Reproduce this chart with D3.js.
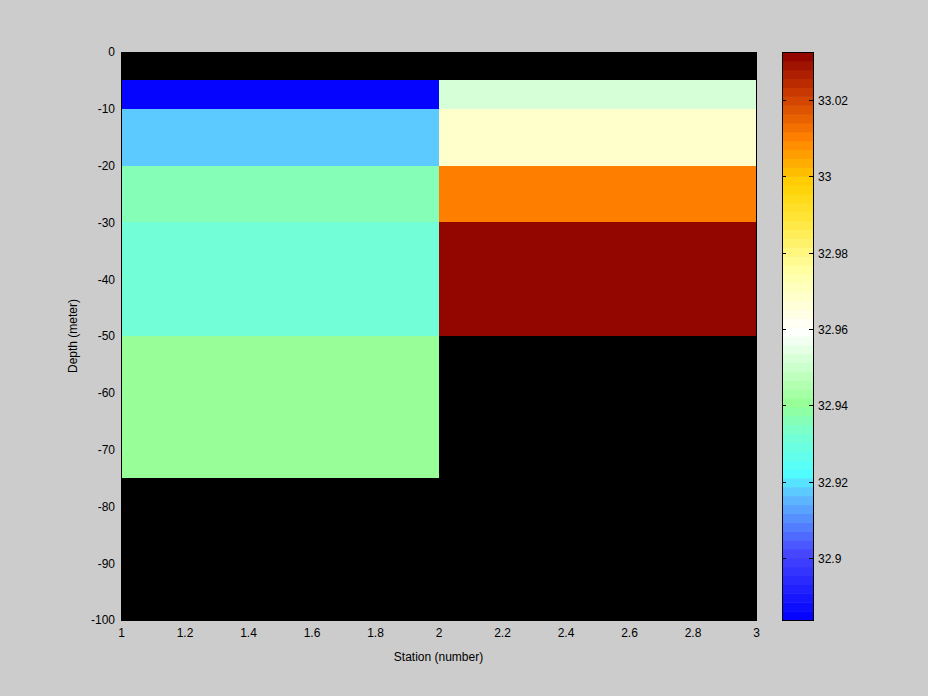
<!DOCTYPE html>
<html><head><meta charset="utf-8">
<script src="https://cdn.jsdelivr.net/npm/d3@7"></script>
<style>body{margin:0;background:#cccccc;} svg{display:block;} text{font-family:"Liberation Sans",Arial,sans-serif;font-size:12px;fill:#000;}</style>
</head><body>
<svg id="c" width="928" height="696"></svg>
<script>
// Data
const stations = [1, 2, 3];
const depths = [0, -5, -10, -20, -30, -50, -75, -100];
const salinityStation1 = [null, 32.884, 32.918, 32.936, 32.932, 32.941, null];
const salinityStation2 = [null, 32.953, 32.969, 33.011, 33.032, null, null];
const colorLimits = [32.8838, 33.0326];
const xTicks = [1, 1.2, 1.4, 1.6, 1.8, 2, 2.2, 2.4, 2.6, 2.8, 3];
const yTicks = [0, -10, -20, -30, -40, -50, -60, -70, -80, -90, -100];
const cbTicks = [32.9, 32.92, 32.94, 32.96, 32.98, 33, 33.02];
const cmapStops = [0, 0.12, 0.22, 0.26, 0.33, 0.38, 0.51, 0.62, 0.70, 0.77, 0.85, 0.92, 1];
const cmapColors = ["#0000ff","#4848ff","#60c0ff","#50ffff","#78ffd0","#96ff96","#ffffff","#ffffa0","#ffe840","#ffd000","#ff8000","#d04000","#8c0000"];
const nLevels = 64;

const fmt = d => String(d);
const svg = d3.select("#c");
const x = d3.scaleLinear().domain([1, 3]).range([121, 756]);
const y = d3.scaleLinear().domain([0, -100]).range([52, 620]);

const cmapInterp = d3.scaleLinear().domain(cmapStops).range(cmapColors).interpolate(d3.interpolateRgb);
const levelColors = d3.range(nLevels).map(i => cmapInterp((i + 0.5) / nLevels));
const color = d3.scaleQuantize().domain(colorLimits).range(levelColors);

// plot background
svg.append("rect").attr("x", x(1)).attr("y", y(0)).attr("width", x(3) - x(1)).attr("height", y(-100) - y(0)).attr("fill", "#000");

const cells = [];
[salinityStation1, salinityStation2].forEach((col, si) => {
  col.forEach((v, di) => {
    if (v != null) cells.push({x0: stations[si], x1: stations[si + 1], d0: depths[di], d1: depths[di + 1], v});
  });
});
svg.append("g").selectAll("rect").data(cells).join("rect")
  .attr("x", d => x(d.x0)).attr("y", d => y(d.d0))
  .attr("width", d => x(d.x1) - x(d.x0)).attr("height", d => y(d.d1) - y(d.d0))
  .attr("fill", d => color(d.v)).attr("shape-rendering", "crispEdges");

// frame
svg.append("rect").attr("x", x(1)).attr("y", y(0)).attr("width", x(3) - x(1)).attr("height", y(-100) - y(0))
  .attr("fill", "none").attr("stroke", "#000").attr("stroke-width", 1).attr("shape-rendering", "crispEdges");

// axes
const xAxis = svg.append("g").attr("transform", `translate(0,${y(-100)})`)
  .call(d3.axisBottom(x).tickValues(xTicks).tickSize(0).tickPadding(8).tickFormat(fmt));
xAxis.select(".domain").remove();
const yAxis = svg.append("g").attr("transform", `translate(${x(1)},0)`)
  .call(d3.axisLeft(y).tickValues(yTicks).tickSize(0).tickPadding(6).tickFormat(fmt));
yAxis.select(".domain").remove();
svg.selectAll(".tick text").style("font-family", "Liberation Sans, Arial, sans-serif").style("font-size", "12px").attr("fill", "#000");

svg.append("text").attr("x", x(2)).attr("y", 661).attr("text-anchor", "middle").text("Station (number)");
svg.append("text").attr("transform", `translate(77,${y(-50)}) rotate(-90)`).attr("text-anchor", "middle").text("Depth (meter)");

// colorbar
const cbX0 = 782, cbX1 = 813;
const cy = d3.scaleLinear().domain(colorLimits).range([620, 52]);
const levelStep = (colorLimits[1] - colorLimits[0]) / nLevels;
svg.append("g").selectAll("rect").data(levelColors).join("rect")
  .attr("x", cbX0).attr("width", cbX1 - cbX0)
  .attr("y", (c, i) => cy(colorLimits[0] + (i + 1) * levelStep))
  .attr("height", (c, i) => cy(colorLimits[0] + i * levelStep) - cy(colorLimits[0] + (i + 1) * levelStep) + 0.5)
  .attr("fill", c => c);
svg.append("rect").attr("x", cbX0).attr("y", 52).attr("width", cbX1 - cbX0).attr("height", 568)
  .attr("fill", "none").attr("stroke", "#000").attr("stroke-width", 1).attr("shape-rendering", "crispEdges");
const cbt = svg.append("g").selectAll("g").data(cbTicks).join("g").attr("transform", d => `translate(0,${Math.round(cy(d)) + 0.5})`);
cbt.append("line").attr("x1", cbX0).attr("x2", cbX0 + 4).attr("stroke", "#000");
cbt.append("line").attr("x1", cbX1 - 4).attr("x2", cbX1).attr("stroke", "#000");
cbt.append("text").attr("x", 818).attr("dy", "0.35em").text(fmt);
</script>
</body></html>
